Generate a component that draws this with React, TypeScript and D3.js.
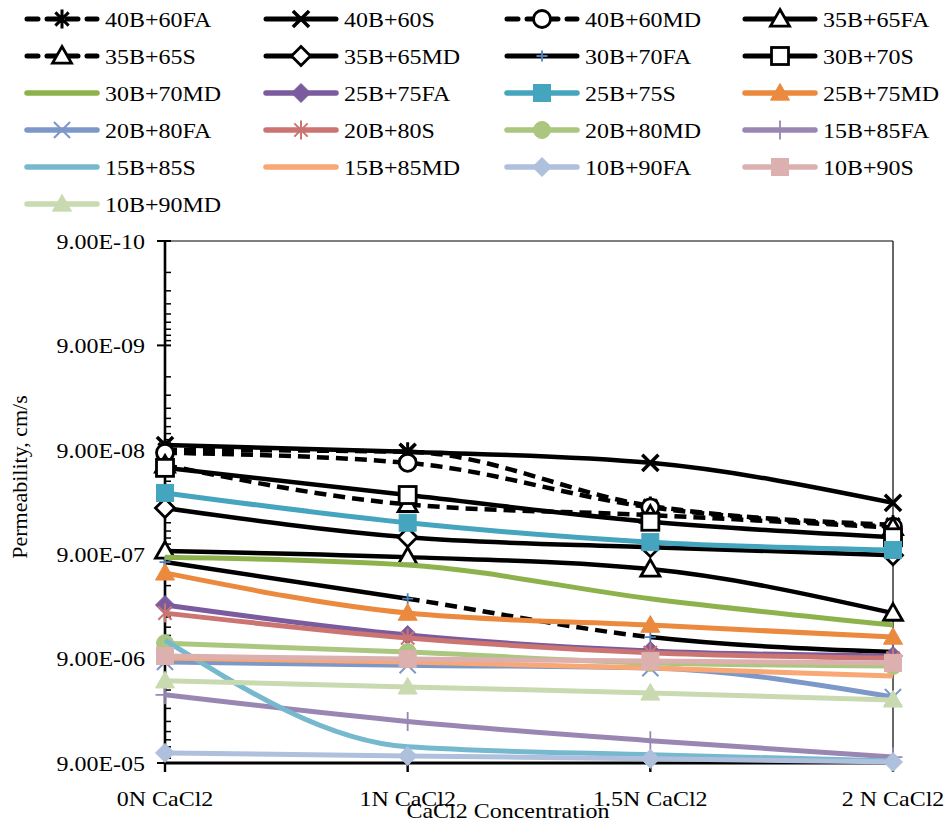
import React from "react";
import * as d3 from "d3";

// ---------- data ----------
const categories = ["0N CaCl2", "1N CaCl2", "1.5N CaCl2", "2 N CaCl2"];
const yTickValues = [9e-10, 9e-9, 9e-8, 9e-7, 9e-6, 9e-5];

const s40B60FA = [9.0e-8, 9.4e-8, 3.1e-7, 4.7e-7];
const s40B60S = [8.1e-8, 9.4e-8, 1.2e-7, 2.9e-7];
const s40B60MD = [9.6e-8, 1.2e-7, 3.2e-7, 4.9e-7];
const s35B65FA = [8.4e-7, 9.6e-7, 1.25e-6, 3.3e-6];
const s35B65S = [1.26e-7, 3.0e-7, 3.8e-7, 5.0e-7];
const s35B65MD = [3.25e-7, 6.2e-7, 7.7e-7, 9.2e-7];
const s30B70FA = [1.07e-6, 2.4e-6, 5.6e-6, 7.8e-6];
const s30B70S = [1.34e-7, 2.44e-7, 4.4e-7, 6.2e-7];
const s30B70MD = [9.6e-7, 1.14e-6, 2.4e-6, 4.3e-6];
const s25B75FA = [2.76e-6, 5.35e-6, 7.6e-6, 8.5e-6];
const s25B75S = [2.33e-7, 4.5e-7, 6.9e-7, 8.2e-7];
const s25B75MD = [1.36e-6, 3.3e-6, 4.3e-6, 5.6e-6];
const s20B80FA = [9.7e-6, 1.04e-5, 1.11e-5, 2.1e-5];
const s20B80S = [3.3e-6, 5.7e-6, 7.9e-6, 8.9e-6];
const s20B80MD = [6.4e-6, 7.8e-6, 9.9e-6, 1.06e-5];
const s15B85FA = [2.0e-5, 3.6e-5, 5.5e-5, 7.9e-5];
const s15B85S = [6.0e-6, 6.3e-5, 7.5e-5, 8.6e-5];
const s15B85MD = [8.9e-6, 9.7e-6, 1.11e-5, 1.32e-5];
const s10B90FA = [7.2e-5, 7.7e-5, 8.2e-5, 8.8e-5];
const s10B90S = [8.5e-6, 9.1e-6, 9.5e-6, 9.9e-6];
const s10B90MD = [1.47e-5, 1.68e-5, 1.92e-5, 2.24e-5];

type Marker = "none" | "star" | "x" | "circle" | "triangle" | "diamond" | "square" | "plus";
type Series = {
  name: string;
  values: number[];
  color: string;
  dashed?: boolean;
  segDash?: boolean[];
  marker: Marker;
  open?: boolean;
  mColor?: string;
  mSize?: number;
  width: number;
};

const DASH = "12,7";

const series: Series[] = [
  { name: "40B+60FA", values: s40B60FA, color: "#000", dashed: true, marker: "star", width: 4.5 },
  { name: "40B+60S", values: s40B60S, color: "#000", marker: "x", width: 4.5 },
  { name: "40B+60MD", values: s40B60MD, color: "#000", dashed: true, marker: "circle", open: true, width: 4.5 },
  { name: "35B+65FA", values: s35B65FA, color: "#000", marker: "triangle", open: true, width: 4.5 },
  { name: "35B+65S", values: s35B65S, color: "#000", dashed: true, marker: "triangle", open: true, width: 4.5 },
  { name: "35B+65MD", values: s35B65MD, color: "#000", marker: "diamond", open: true, width: 4.5 },
  { name: "30B+70FA", values: s30B70FA, color: "#000", segDash: [false, true, false], marker: "plus", mColor: "#4F81BD", mSize: 11, width: 4.5 },
  { name: "30B+70S", values: s30B70S, color: "#000", marker: "square", open: true, width: 4.5 },
  { name: "30B+70MD", values: s30B70MD, color: "#8DB24C", marker: "none", width: 5 },
  { name: "25B+75FA", values: s25B75FA, color: "#7A5C9E", marker: "diamond", width: 5 },
  { name: "25B+75S", values: s25B75S, color: "#45A4BE", marker: "square", width: 5 },
  { name: "25B+75MD", values: s25B75MD, color: "#EB8A3E", marker: "triangle", width: 5 },
  { name: "20B+80FA", values: s20B80FA, color: "#7B98C9", marker: "x", width: 5 },
  { name: "20B+80S", values: s20B80S, color: "#CB7472", marker: "star", width: 5 },
  { name: "20B+80MD", values: s20B80MD, color: "#ABC67E", marker: "circle", width: 5 },
  { name: "15B+85FA", values: s15B85FA, color: "#9A86B2", marker: "plus", width: 5 },
  { name: "15B+85S", values: s15B85S, color: "#76B9CF", marker: "none", width: 5 },
  { name: "15B+85MD", values: s15B85MD, color: "#F8A775", marker: "none", width: 5 },
  { name: "10B+90FA", values: s10B90FA, color: "#AFC0DC", marker: "diamond", width: 5 },
  { name: "10B+90S", values: s10B90S, color: "#DBB0AF", marker: "square", width: 5 },
  { name: "10B+90MD", values: s10B90MD, color: "#C9DAB0", marker: "triangle", width: 5 },
];

const W = 945;
const H = 820;
const FONT = "Liberation Serif";
const FS = 22;
const SX = 1.09; // horizontal stretch seen in the reference text

const x = d3.scalePoint<string>().domain(categories).range([165, 893]);
const y = d3.scaleLog().domain([9e-10, 9e-5]).range([241, 763]);

type P = [number, number];

const lineGen = d3.line<P>().curve(d3.curveMonotoneX);

// split the smoothed path into its per-segment pieces
function segments(pts: P[]): string[] {
  const d = lineGen(pts) || "";
  const parts = d.split("C");
  const out: string[] = [];
  let start = `M${pts[0][0]},${pts[0][1]}`;
  for (let i = 1; i < parts.length; i++) {
    out.push(`${start}C${parts[i]}`);
    start = `M${pts[i][0]},${pts[i][1]}`;
  }
  return out;
}

function MarkerShape({ m, cx, cy, s }: { m: Marker; cx: number; cy: number; s: Series }) {
  const size = s.mSize ?? 19;
  const r = size / 2;
  const stroke = s.mColor ?? s.color;
  const fill = s.open ? "#fff" : stroke;
  const sw = s.open ? 2.8 : 1;
  const t = `translate(${cx},${cy})`;
  switch (m) {
    case "circle":
      return <circle cx={cx} cy={cy} r={r - 1} fill={fill} stroke={stroke} strokeWidth={sw} />;
    case "square":
      return <rect x={cx - r + 1} y={cy - r + 1} width={size - 2} height={size - 2} fill={fill} stroke={stroke} strokeWidth={sw} />;
    case "triangle":
      return (
        <path transform={t} d={`M0,${-r}L${r},${r * 0.75}L${-r},${r * 0.75}Z`} fill={fill} stroke={stroke} strokeWidth={sw} />
      );
    case "diamond":
      return <path transform={t} d={`M0,${-r}L${r},0L0,${r}L${-r},0Z`} fill={fill} stroke={stroke} strokeWidth={sw} />;
    case "x": {
      const k = r * 0.85;
      return (
        <path transform={t} d={`M${-k},${-k}L${k},${k}M${k},${-k}L${-k},${k}`} stroke={stroke} strokeWidth={s.color === "#000" ? 3.5 : 2} fill="none" />
      );
    }
    case "star": {
      const k = r * 0.7;
      return (
        <path
          transform={t}
          d={`M${-k},${-k}L${k},${k}M${k},${-k}L${-k},${k}M0,${-r}L0,${r}`}
          stroke={stroke}
          strokeWidth={s.color === "#000" ? 3 : 2}
          fill="none"
        />
      );
    }
    case "plus":
      return <path transform={t} d={`M${-r},0L${r},0M0,${-r}L0,${r}`} stroke={stroke} strokeWidth={1.8} fill="none" />;
    default:
      return null;
  }
}

function SText({ x0, y0, anchor, children }: { x0: number; y0: number; anchor: string; children: React.ReactNode }) {
  return (
    <text
      transform={`translate(${x0},${y0}) scale(${SX},1)`}
      textAnchor={anchor}
      dy="0.35em"
      style={{ fontFamily: FONT, fontSize: FS }}
      fill="#000"
    >
      {children}
    </text>
  );
}

const legendCols = [27, 266, 507, 745];
const legendRowY = (r: number) => 19 + r * 37;

const fmt = (v: number) => {
  const [m, e] = v.toExponential(2).split("e");
  const n = Math.abs(+e);
  return `${m}E${+e < 0 ? "-" : "+"}${n < 10 ? "0" + n : n}`;
};

export default function App() {
  const minorTicks: number[] = [];
  for (let i = 0; i < yTickValues.length - 1; i++) {
    for (let k = 2; k <= 9; k++) minorTicks.push(yTickValues[i] * k);
  }
  const x0 = x(categories[0])!;
  const x1 = x(categories[categories.length - 1])!;

  return (
    <svg width={W} height={H} style={{ position: "absolute", left: 0, top: 0, background: "#fff" }}>
      {/* legend */}
      {series.map((s, i) => {
        const col = i % 4;
        const row = Math.floor(i / 4);
        const lx = legendCols[col];
        const ly = legendRowY(row);
        return (
          <g key={s.name}>
            <line
              x1={lx}
              x2={lx + 70}
              y1={ly}
              y2={ly}
              stroke={s.color}
              strokeWidth={s.width + 0.5}
              strokeLinecap="round"
              strokeDasharray={s.dashed ? "11,9" : undefined}
            />
            <MarkerShape m={s.marker} cx={lx + 35} cy={ly} s={s} />
            <SText x0={lx + 78} y0={ly} anchor="start">{s.name}</SText>
          </g>
        );
      })}

      {/* plot frame */}
      <line x1={x0} x2={x1} y1={y(9e-10)} y2={y(9e-10)} stroke="#000" strokeWidth={1.2} />
      <line x1={x1} x2={x1} y1={y(9e-10)} y2={y(9e-5)} stroke="#000" strokeWidth={1.2} />

      {/* y axis */}
      <line x1={x0} x2={x0} y1={y(9e-10)} y2={y(9e-5)} stroke="#000" strokeWidth={2.6} />
      {minorTicks.map((v, i) => (
        <line key={i} x1={x0} x2={x0 + 6} y1={y(v)} y2={y(v)} stroke="#000" strokeWidth={1.5} />
      ))}
      {yTickValues.map((v) => (
        <g key={v}>
          <line x1={x0 - 8} x2={x0 + 6} y1={y(v)} y2={y(v)} stroke="#000" strokeWidth={2} />
          <SText x0={x0 - 20} y0={y(v)} anchor="end">{fmt(v)}</SText>
        </g>
      ))}
      <text transform={`translate(27,477) rotate(-90)`} textAnchor="middle" style={{ fontFamily: FONT, fontSize: FS }}>
        Permeability, cm/s
      </text>

      {/* x axis */}
      <line x1={x0} x2={x1} y1={y(9e-5)} y2={y(9e-5)} stroke="#000" strokeWidth={3} />
      {categories.map((c) => (
        <g key={c}>
          <line x1={x(c)!} x2={x(c)!} y1={y(9e-5)} y2={y(9e-5) + 9} stroke="#000" strokeWidth={2.4} />
          <SText x0={x(c)!} y0={798} anchor="middle">{c}</SText>
        </g>
      ))}
      <SText x0={508} y0={810} anchor="middle">CaCl2 Concentration</SText>

      {/* series */}
      {series.map((s) => {
        const pts: P[] = s.values.map((v, i) => [x(categories[i])!, y(v)]);
        return (
          <g key={s.name}>
            {s.segDash ? (
              segments(pts).map((d, i) => (
                <path key={i} d={d} fill="none" stroke={s.color} strokeWidth={s.width} strokeDasharray={s.segDash![i] ? DASH : undefined} />
              ))
            ) : (
              <path d={lineGen(pts) || ""} fill="none" stroke={s.color} strokeWidth={s.width} strokeDasharray={s.dashed ? DASH : undefined} strokeLinejoin="round" />
            )}
            {pts.map((p, i) => (
              <MarkerShape key={i} m={s.marker} cx={p[0]} cy={p[1]} s={s} />
            ))}
          </g>
        );
      })}
    </svg>
  );
}
